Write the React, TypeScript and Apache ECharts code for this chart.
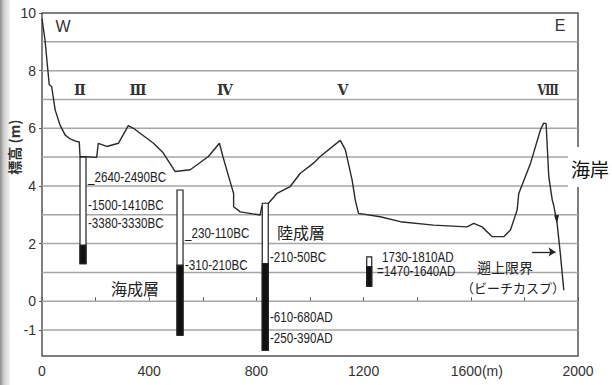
import React, { useEffect, useRef } from "react";
import * as echarts from "echarts";

// Ground profile (distance m, elevation m)
const profileX = [0, 11, 27, 36, 49, 67, 86, 105, 130, 139, 142, 204, 210, 242, 285, 322, 341, 416, 452, 497, 553, 621, 662, 675, 702, 715, 715, 740, 814, 820, 833, 839, 877, 926, 964, 1013, 1038, 1113, 1132, 1157, 1169, 1181, 1262, 1337, 1461, 1586, 1611, 1642, 1680, 1723, 1748, 1773, 1779, 1823, 1860, 1872, 1881, 1891, 1904, 1909, 1922, 1934, 1947];
const profileY = [9.8, 9.08, 7.51, 7.45, 6.64, 6.12, 5.77, 5.63, 5.54, 5.53, 5.02, 4.99, 5.48, 5.37, 5.48, 6.09, 6.0, 5.48, 5.15, 4.5, 4.56, 5.02, 5.48, 5.02, 4.15, 3.74, 3.28, 3.1, 2.99, 3.28, 3.4, 3.34, 3.74, 3.98, 4.44, 4.79, 5.02, 5.58, 5.25, 4.21, 3.51, 3.05, 2.93, 2.76, 2.64, 2.58, 2.70, 2.58, 2.24, 2.24, 2.47, 3.17, 3.74, 4.79, 5.95, 6.18, 6.16, 4.32, 3.51, 3.34, 2.70, 1.66, 0.38];

// Cores: position, top, top of marine layer (black), bottom
const coreX = [153, 515, 833, 1221];
const coreTop = [5.0, 3.86, 3.4, 1.54];
const coreMarineTop = [1.95, 1.25, 1.31, 1.2];
const coreBottom = [1.3, -1.18, -1.7, 0.52];

const yLabelValues = [10, 8, 6, 4, 2, 0, -1];
const yGridValues = [-1, 0, 1, 2, 3, 4, 5, 6, 7, 8, 9];

// run-up limit arrow (data coords)
const arrowFrom = [1829, 1.71];
const arrowTo = [1916, 1.71];
const slopeArrow = [1921, 2.85];

const SANS = "'Liberation Sans', Arial, sans-serif";
const CJK = "'Noto Sans CJK JP', sans-serif";
const SERIF = "'DejaVu Serif', serif";

function txt(text: string, x: number, y: number, opts: any = {}) {
  return {
    type: "text",
    x,
    y,
    z: 100,
    scaleX: opts.scaleX ?? 0.83,
    style: {
      text,
      fill: opts.fill || "#222",
      fontSize: opts.size || 14,
      fontFamily: opts.family || SANS,
      fontWeight: opts.weight || "normal",
      textAlign: opts.align || "left",
      textVerticalAlign: "middle",
    },
    ...(opts.extra || {}),
  };
}

export default function App() {
  const ref = useRef<HTMLDivElement>(null);
  useEffect(() => {
    const chart = echarts.init(ref.current!, null, { renderer: "svg" });
    const lineData = profileX.map((x, i) => [x, profileY[i]]);
    const coreData = coreX.map((x, i) => [x, coreTop[i], coreMarineTop[i], coreBottom[i]]);

    chart.setOption({
      animation: false,
      grid: {
        left: 42,
        right: 34,
        top: 13,
        bottom: 29,
        show: true,
        borderColor: "#555",
        borderWidth: 1.5,
      },
      xAxis: {
        type: "value",
        min: 0,
        max: 2000,
        interval: 200,
        axisLine: { show: false },
        axisTick: { show: true, inside: true, length: 4, lineStyle: { color: "#555" } },
        splitLine: { show: false },
        axisLabel: {
          interval: 1,
          margin: 8,
          color: "#333",
          fontSize: 14,
          fontFamily: SANS,
          formatter: (v: number) => (v % 400 === 0 ? (v === 1600 ? "{m|1600(m)}" : String(v)) : ""),
          rich: { m: { padding: [0, 0, 0, 12], fontSize: 14, fontFamily: SANS, color: "#333" } },
        },
      },
      yAxis: {
        type: "value",
        min: -1.9,
        max: 10,
        axisLine: { show: false },
        axisTick: { show: true, customValues: yLabelValues, length: 3, lineStyle: { color: "#555" } },
        splitLine: { show: false },
        axisLabel: {
          customValues: yLabelValues,
          margin: 6,
          color: "#333",
          fontSize: 14,
          fontFamily: SANS,
        },
      },
      graphic: [
        {
          type: "rect",
          shape: { x: 0, y: 0, width: 10, height: 385 },
          z: -10,
          style: {
            fill: new echarts.graphic.LinearGradient(0, 0, 1, 0, [
              { offset: 0, color: "#8c8c8c" },
              { offset: 0.4, color: "#d0d0d0" },
              { offset: 1, color: "#f4f4f4" },
            ]),
          },
        },
        {
          type: "rect",
          shape: { x: 568, y: 147, width: 44, height: 40 },
          z: 99,
          style: { fill: "#fff" },
        },
        txt("海岸", 590, 168, { family: CJK, size: 19, align: "center", fill: "#111", scaleX: 1 }),
        txt("標高 (m)", 14, 147, {
          family: CJK,
          size: 14,
          align: "center",
          weight: "bold",
          fill: "#333",
          scaleX: 1,
          extra: { rotation: Math.PI / 2 },
        }),
        txt("W", 63, 26, { size: 16, align: "center", fill: "#333", scaleX: 1 }),
        txt("E", 560, 25, { size: 16, align: "center", fill: "#333", scaleX: 1 }),
        txt("Ⅱ", 80, 90, { family: SERIF, size: 14, align: "center", weight: "bold", fill: "#333", scaleX: 1 }),
        txt("Ⅲ", 138, 90, { family: SERIF, size: 14, align: "center", weight: "bold", fill: "#333", scaleX: 1 }),
        txt("Ⅳ", 225, 90, { family: SERIF, size: 14, align: "center", weight: "bold", fill: "#333", scaleX: 1 }),
        txt("Ⅴ", 343, 90, { family: SERIF, size: 14, align: "center", weight: "bold", fill: "#333", scaleX: 1 }),
        txt("Ⅷ", 548, 90, { family: SERIF, size: 14, align: "center", weight: "bold", fill: "#333", scaleX: 0.8 }),
        txt("_2640-2490BC", 88, 177, {}),
        txt("-1500-1410BC", 88, 205, {}),
        txt("-3380-3330BC", 88, 223, {}),
        txt("_230-110BC", 185, 233, {}),
        txt("-310-210BC", 185, 265, {}),
        txt("陸成層", 277, 232, { family: CJK, size: 16, scaleX: 1 }),
        txt("-210-50BC", 270, 257, {}),
        txt("-610-680AD", 270, 317, {}),
        txt("-250-390AD", 270, 338, {}),
        txt("海成層", 111, 288, { family: CJK, size: 16, scaleX: 1 }),
        txt("1730-1810AD", 382, 257, {}),
        txt("=1470-1640AD", 377, 271, {}),
        txt("遡上限界", 505, 267, { family: CJK, size: 14, align: "center", scaleX: 1 }),
        txt("（ビーチカスプ）", 513, 287, { family: CJK, size: 13, align: "center", scaleX: 1 }),
      ],
      series: [
        {
          type: "custom",
          z: 1,
          silent: true,
          data: yGridValues.map((v) => [0, v]),
          encode: { x: 0, y: 1 },
          renderItem: (params: any, api: any) => {
            const cs = params.coordSys;
            const p = api.coord([0, api.value(1)]);
            return {
              type: "line",
              shape: { x1: cs.x, y1: p[1], x2: cs.x + cs.width, y2: p[1] },
              style: { stroke: "#a6a6a6", lineWidth: 1.5 },
            };
          },
        },
        {
          type: "line",
          data: lineData,
          showSymbol: false,
          symbol: "none",
          z: 3,
          lineStyle: { color: "#2a2a2a", width: 1.4 },
          markLine: {
            silent: true,
            symbol: ["none", "arrow"],
            symbolSize: 7,
            label: { show: false },
            lineStyle: { color: "#222", width: 1.3, type: "solid" },
            data: [[{ coord: arrowFrom }, { coord: arrowTo }]],
          },
          markPoint: {
            silent: true,
            symbol: "triangle",
            symbolSize: [5, 8],
            symbolRotate: 185,
            label: { show: false },
            itemStyle: { color: "#222" },
            data: [{ coord: slopeArrow }],
          },
        },
        {
          type: "custom",
          z: 5,
          data: coreData,
          encode: { x: 0, y: [1, 2, 3] },
          renderItem: (params: any, api: any) => {
            const x = api.value(0);
            const pTop = api.coord([x, api.value(1)]);
            const pMid = api.coord([x, api.value(2)]);
            const pBot = api.coord([x, api.value(3)]);
            const w = params.dataIndex === 3 ? 5 : 6;
            return {
              type: "group",
              children: [
                {
                  type: "rect",
                  shape: { x: pTop[0] - w / 2, y: pTop[1], width: w, height: pBot[1] - pTop[1] },
                  style: { fill: "#fff", stroke: "#222", lineWidth: 1.2 },
                },
                {
                  type: "rect",
                  shape: { x: pTop[0] - w / 2, y: pMid[1], width: w, height: pBot[1] - pMid[1] },
                  style: { fill: "#111", stroke: "#222", lineWidth: 1.2 },
                },
              ],
            };
          },
        },
      ],
    });
    return () => chart.dispose();
  }, []);
  return <div ref={ref} style={{ width: 612, height: 385, position: "absolute", left: 0, top: 0 }} />;
}
